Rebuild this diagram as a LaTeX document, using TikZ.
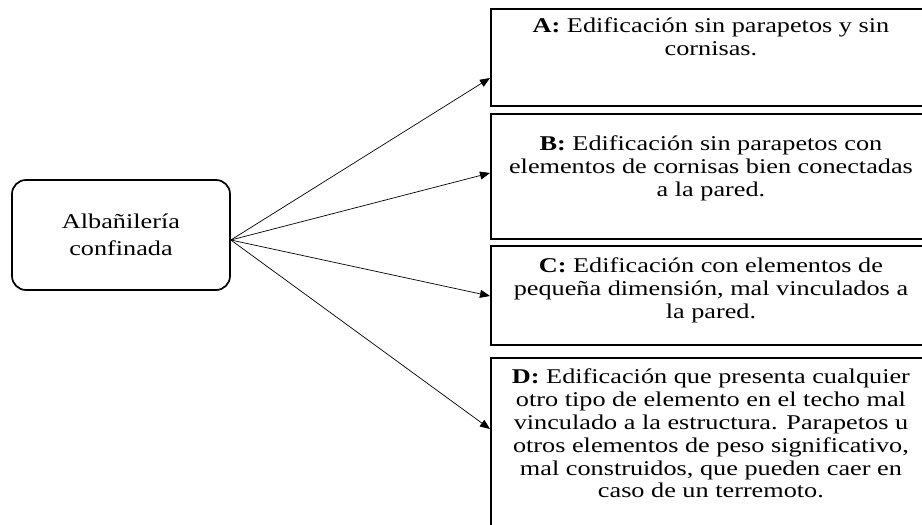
\documentclass[tikz,border=0pt]{standalone}
\usepackage{fontspec}
\setmainfont{Liberation Serif}[FakeStretch=1.25]
\usetikzlibrary{arrows.meta,positioning}

\tikzset{
  caja/.style={draw, line width=1.9pt, minimum width=440pt, anchor=north west, inner sep=0pt},
  texto/.style={align=center, anchor=north, inner sep=0pt, font=\fontsize{21}{22.8}\selectfont},
  flecha/.style={-{Triangle[length=10pt,width=8pt]}, line width=0.7pt},
}

\begin{document}
\begin{tikzpicture}[x=1pt,y=-1pt]
	\clip (0,0) rectangle (922,525);
	% Nodes and boxes:
	\node[draw, rounded corners=14pt, line width=1.7pt, minimum width=218pt, minimum height=110pt, align=center, font=\fontsize{21}{27}\selectfont] (alba) at (121,235) {Albañilería\\confinada};
	\node[caja, minimum height=97pt] (cajaA) at (490,8) {};
	\node[caja, minimum height=125pt] (cajaB) at (490,113) {};
	\node[caja, minimum height=99pt] (cajaC) at (490,245) {};
	\node[caja, minimum height=188pt] (cajaD) at (490,357) {};
	\node[texto] (textoA) at ([yshift=-10pt]cajaA.north) {\textbf{A:} Edificación sin parapetos y sin\\cornisas.};
	\node[texto] (textoB) at ([yshift=-23pt]cajaB.north) {\textbf{B:} Edificación sin parapetos con\\elementos de cornisas bien conectadas\\a la pared.};
	\node[texto] (textoC) at ([yshift=-13pt]cajaC.north) {\textbf{C:} Edificación con elementos de\\pequeña dimensión, mal vinculados a\\la pared.};
	\node[texto] (textoD) at ([yshift=-12pt]cajaD.north) {\textbf{D:} Edificación que presenta cualquier\\otro tipo de elemento en el techo mal\\vinculado a la estructura. Parapetos u\\otros elementos de peso significativo,\\mal construidos, que pueden caer en\\caso de un terremoto.};
	% Arrows:
	\coordinate (origen) at ([yshift=-5pt]alba.east);
	\draw[flecha] (origen) -- ([yshift=-70pt]cajaA.north west);
	\draw[flecha] (origen) -- ([yshift=-60pt]cajaB.north west);
	\draw[flecha] (origen) -- ([yshift=-51pt]cajaC.north west);
	\draw[flecha] (origen) -- ([yshift=-72pt]cajaD.north west);
\end{tikzpicture}
\end{document}
